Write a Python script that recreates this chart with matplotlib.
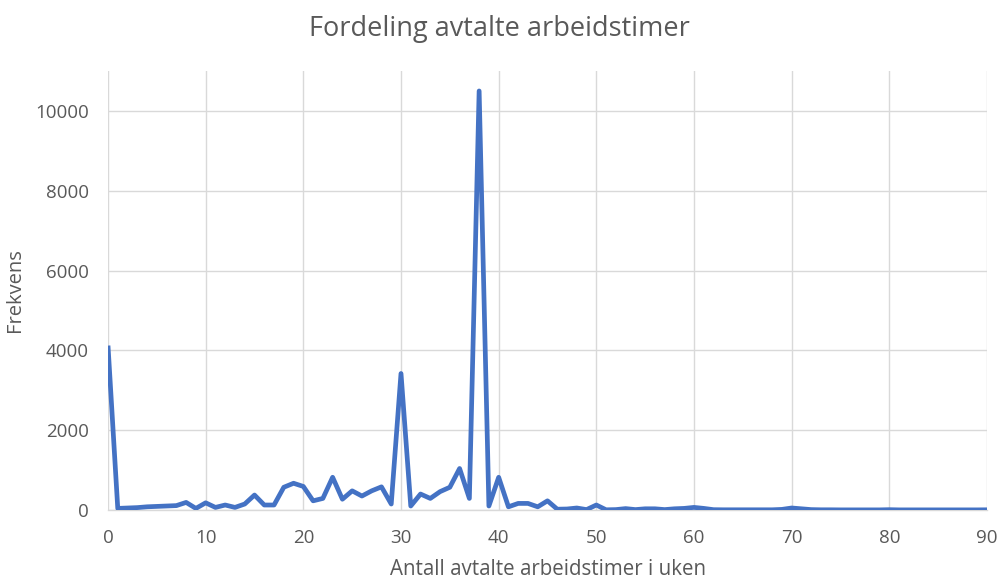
import matplotlib
matplotlib.use("Agg")
import matplotlib.pyplot as plt

plt.rcParams['font.family'] = ['Open Sans', 'DejaVu Sans']

hours = list(range(0, 91))
frequency = [
    4120, 40, 50, 60, 80, 90, 100, 110, 190, 40,        # 0-9
    180, 65, 125, 65, 150, 375, 125, 125, 570, 670,     # 10-19
    590, 230, 290, 820, 270, 480, 350, 480, 580, 150,   # 20-29
    3420, 100, 400, 290, 460, 570, 1040, 290, 10500, 100,  # 30-39
    820, 80, 165, 165, 80, 230, 20, 25, 50, 10,         # 40-49
    125, 5, 10, 35, 10, 30, 30, 10, 30, 40,             # 50-59
    65, 40, 8, 5, 5, 5, 5, 5, 5, 15,                    # 60-69
    50, 30, 10, 5, 5, 3, 3, 3, 3, 3,                    # 70-79
    8, 3, 3, 3, 3, 3, 3, 3, 3, 3,                       # 80-89
    5,                                                  # 90
]
x_ticks = list(range(0, 91, 10))
y_ticks = list(range(0, 10001, 2000))

text_color = '#595959'
grid_color = '#D9D9D9'

fig = plt.figure(figsize=(9.98, 5.81), dpi=100)
ax = fig.add_axes([108 / 998, 71 / 581, (987 - 108) / 998, (510 - 71) / 581])

ax.plot(hours, frequency, color='#4472C4', linewidth=3.4, solid_joinstyle='round',
        solid_capstyle='butt', zorder=3)

ax.set_xlim(0, 90)
ax.set_ylim(0, 11000)
ax.set_xticks(x_ticks)
ax.set_yticks(y_ticks)
ax.grid(True, color=grid_color, linewidth=1.0, zorder=0)
ax.set_axisbelow(True)
for side in ('top', 'right', 'left'):
    ax.spines[side].set_visible(False)
ax.spines['bottom'].set_color(grid_color)
ax.spines['bottom'].set_linewidth(1.0)
ax.tick_params(axis='x', length=0, labelsize=13.5, colors=text_color, pad=14)
ax.tick_params(axis='y', length=0, labelsize=13.5, colors=text_color, pad=14)

ax.set_xlabel('Antall avtalte arbeidstimer i uken', fontsize=14.8, color=text_color, labelpad=8)
ax.set_ylabel('Frekvens', fontsize=14.5, color=text_color, labelpad=7)
fig.suptitle('Fordeling avtalte arbeidstimer', fontsize=19.5, color=text_color, y=0.975)

fig.savefig('out.png', dpi=100)
